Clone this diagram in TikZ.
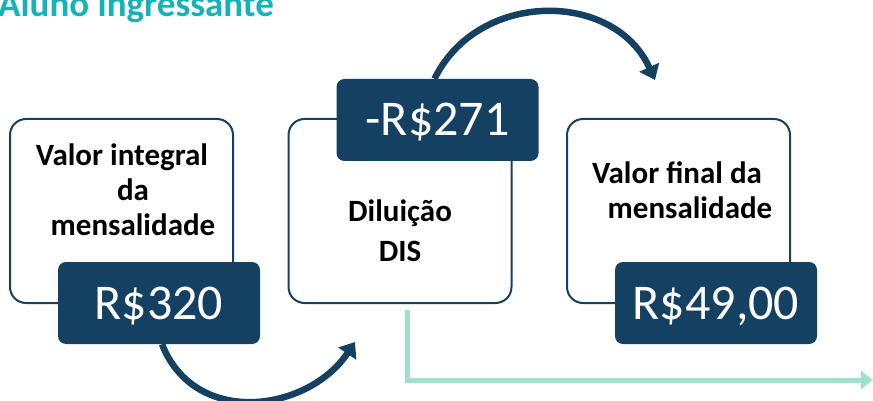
\documentclass[tikz,border=0pt]{standalone}
\usepackage{fontspec}
\setmainfont{Carlito}
\usetikzlibrary{arrows.meta}
\definecolor{navy}{RGB}{20,64,98}
\definecolor{teal}{RGB}{22,178,186}
\definecolor{mint}{RGB}{160,224,204}
\tikzset{
  card/.style={draw=navy, line width=2pt, rounded corners=16pt, fill=white, minimum width=223pt, minimum height=184pt, inner sep=0pt},
  tag/.style={fill=navy, rounded corners=8pt, minimum width=202pt, minimum height=82pt, inner sep=0pt, text=white, font=\fontsize{50}{55}\selectfont, text height=32pt, text depth=0pt},
  lbl/.style={align=center, font=\bfseries\fontsize{31}{35}\selectfont, text=black},
  flow/.style={navy, line width=6.5pt, -{Triangle[width=21pt,length=14pt]}},
  track/.style={mint, line width=5pt, -{Triangle[width=18pt,length=12pt]}}
}
\begin{document}
\begin{tikzpicture}[x=1pt,y=-1pt]
\useasboundingbox (0,0) rectangle (873,401);
\node[anchor=base west, text=teal, font=\bfseries\fontsize{37}{40}\selectfont, inner sep=0pt] (title) at (-2,17) {Aluno ingressante};
% cards
\node[card] (c1) at (121.5,211) {};
\node[card] (c2) at (400,211) {};
\node[card] (c3) at (678.5,211) {};
\node[lbl] (t1) at (133,190) {Valor integral\hspace*{22pt}\\da\\mensalidade};
\node[lbl, font=\bfseries\fontsize{31}{40}\selectfont] (t2) at (400,231) {Diluição\\DIS};
\node[lbl] (t3) at (690,190) {Valor final da\hspace*{26pt}\\mensalidade};
% tags
\node[tag] (g1) at (159,303) {R\$320};
\node[tag] (g2) at (437.5,120) {-R\$271};
\node[tag] (g3) at (716,303) {R\$49,00};
% arrows
\coordinate (e1) at (355,342);
\coordinate (e2) at (655,80);
\draw[flow] (g1.south) ++(3,0) coordinate (s1) (s1) .. controls (195,428) and (308,412) .. (e1);
\draw[flow] (g2.north) ++(-3,0) coordinate (s2) (s2) .. controls (478,-10) and (614,-10) .. (e2);
\coordinate (m1) at (407,310);
\coordinate (m2) at (873,380);
\draw[track] (m1) |- (m2);
\end{tikzpicture}
\end{document}
